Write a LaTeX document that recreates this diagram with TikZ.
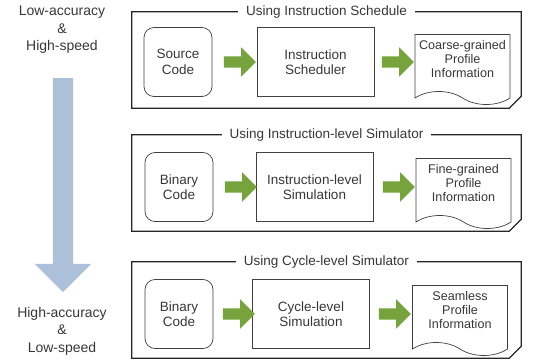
\documentclass[tikz,border=0pt]{standalone}
\usepackage{fontspec}
\setmainfont{Liberation Sans}
\usetikzlibrary{shapes.arrows,shapes.symbols}
\definecolor{stepgreen}{RGB}{119,163,60}
\definecolor{trendblue}{RGB}{172,192,218}
\definecolor{textgray}{RGB}{55,55,55}

\begin{document}
\begin{tikzpicture}[
    x=1pt, y=-1pt,
    every node/.style={text=textgray, font=\fontsize{13.5}{15.5}\selectfont},
    panel/.style={rectangle, minimum width=389pt, minimum height=96pt, inner sep=0pt},
    panelline/.style={draw=black!85, line width=1.2pt},
    paneltitle/.style={fill=white, inner xsep=8pt, inner ysep=1pt},
    codebox/.style={rectangle, rounded corners=10pt, draw=black!75, line width=0.7pt, minimum width=68pt, minimum height=69pt, align=center, inner sep=0pt},
    toolbox/.style={rectangle, draw=black!75, line width=0.7pt, minimum width=117pt, minimum height=69pt, align=center, inner sep=0pt},
    docbox/.style={tape, tape bend top=none, tape bend bottom=out and in, tape bend height=13pt, draw=black!75, line width=0.7pt, minimum width=95pt, minimum height=70pt, align=center, inner sep=0pt, text depth=9pt, font=\fontsize{12.6}{14}\selectfont},
    fatarrow/.style={single arrow, fill=stepgreen, inner xsep=0pt, inner ysep=5.5pt, single arrow head extend=9pt, minimum height=32pt},
    sidetext/.style={font=\fontsize{14}{17.5}\selectfont, align=center}
]
\useasboundingbox (0,0) rectangle (534,363);

% Accuracy / speed trend
\node[sidetext] (fast) at (62,30) {Low-accuracy\\\&\\High-speed};
\node[sidetext] (slow) at (62,331) {High-accuracy\\\&\\Low-speed};
\node[single arrow, shape border rotate=270, fill=trendblue, inner sep=10pt, single arrow head extend=18pt, minimum height=214pt] (trend) at (63,180) {};

% Panel 1
\node[panel] (p1) at (326.5,60) {};
\draw[panelline] (p1.north west) -- (p1.north east) -- ([yshift=12pt]p1.south east) -- ([xshift=-12pt]p1.south east) -- (p1.south west) -- cycle;
\node[paneltitle] (t1) at (p1.north) {Using Instruction Schedule};
\node[codebox] (src) at (178,62) {Source\\Code};
\node[toolbox] (sched) at (315.5,62) {Instruction\\Scheduler};
\node[docbox] (coarse) at (462.5,63) {Coarse-grained\\Profile\\Information};
\node[fatarrow] (a11) at (237,62) {};
\node[fatarrow] (a12) at (395,62) {};

% Panel 2
\node[panel] (p2) at (326.5,183) {};
\draw[panelline] (p2.north west) -- (p2.north east) -- ([yshift=12pt]p2.south east) -- ([xshift=-12pt]p2.south east) -- (p2.south west) -- cycle;
\node[paneltitle] (t2) at (p2.north) {Using Instruction-level Simulator};
\node[codebox] (bin2) at (179,187) {Binary\\Code};
\node[toolbox] (isim) at (314.5,187) {Instruction-level\\Simulation};
\node[docbox] (fine) at (463.5,187) {Fine-grained\\Profile\\Information};
\node[fatarrow] (a21) at (238,187) {};
\node[fatarrow] (a22) at (396,187) {};

% Panel 3
\node[panel] (p3) at (326.5,310) {};
\draw[panelline] (p3.north west) -- (p3.north east) -- ([yshift=12pt]p3.south east) -- ([xshift=-12pt]p3.south east) -- (p3.south west) -- cycle;
\node[paneltitle] (t3) at (p3.north) {Using Cycle-level Simulator};
\node[codebox] (bin3) at (179,314) {Binary\\Code};
\node[toolbox] (csim) at (311,314) {Cycle-level\\Simulation};
\node[docbox] (seamless) at (460,314) {Seamless\\Profile\\Information};
\node[fatarrow] (a31) at (236,314) {};
\node[fatarrow] (a32) at (392,314) {};

\end{tikzpicture}
\end{document}
